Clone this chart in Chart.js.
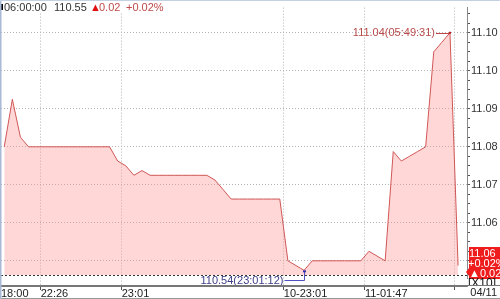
<!DOCTYPE html>
<html>
<head>
<meta charset="utf-8">
<script src="https://cdn.jsdelivr.net/npm/chart.js@4/dist/chart.umd.min.js"></script>
<style>
  html, body { margin: 0; padding: 0; background: #fff; }
  #wrap { width: 500px; height: 299px; }
</style>
</head>
<body>
<div id="wrap"><canvas id="chart" width="500" height="299"></canvas></div>
<script>
// price per time slot (axis shows values x10)
const prices = [
  110.80, 110.90, 110.82,
  110.80, 110.80, 110.80, 110.80, 110.80, 110.80, 110.80, 110.80, 110.80, 110.80, 110.80,
  110.77, 110.76, 110.74, 110.75,
  110.74, 110.74, 110.74, 110.74, 110.74, 110.74, 110.74, 110.74,
  110.73, 110.71,
  110.69, 110.69, 110.69, 110.69, 110.69, 110.69, 110.69,
  110.56, 110.55, 110.54,
  110.56, 110.56, 110.56, 110.56, 110.56, 110.56, 110.56,
  110.58, 110.57, 110.56,
  110.79, 110.77, 110.78, 110.79, 110.80,
  111.00, 111.02, 111.04, 110.55
];
const prevClose = 110.53;

const yTicks = [110.52, 110.54, 110.56, 110.58, 110.60, 110.62, 110.64, 110.66, 110.68, 110.70,
  110.72, 110.74, 110.76, 110.78, 110.80, 110.82, 110.84, 110.86, 110.88, 110.90,
  110.92, 110.94, 110.96, 110.98, 111.00, 111.02, 111.04, 111.06, 111.08];
const yMajor = [110.56, 110.64, 110.72, 110.80, 110.88, 110.96, 111.04];

const xTickSlots = [-0.4, 4.5, 14.5, 34.5, 44.5, 55.5];
const xTickLabels = ['18:00', '22:26', '23:01', '10-23:01', '11-01:47', '04/11'];

const headerTime = '06:00:00';
const headerPrice = '110.55';
const headerChange = '0.02';
const headerPct = '+0.02%';
const boxLines = ['11.06', '+0.02%', '\u25B20.02'];

const highIndex = 55;
const highLabel = '111.04(05:49:31)';
const lowIndex = 37;
const lowLabel = '110.54(23:01:12)';

const FONT = '"Liberation Sans", Arial, sans-serif';

const isMajor = v => yMajor.some(m => Math.abs(m - v) < 1e-6);

const decor = {
  id: 'decor',
  afterDraw(chart) {
    const ctx = chart.ctx;
    const xs = chart.scales.x, ys = chart.scales.y;
    const area = chart.chartArea;
    ctx.save();

    // previous close line
    const yc = Math.round(ys.getPixelForValue(prevClose)) + 0.5;
    ctx.strokeStyle = '#333';
    ctx.lineWidth = 1;
    ctx.setLineDash([2, 2]);
    ctx.beginPath();
    ctx.moveTo(area.left, yc);
    ctx.lineTo(area.right, yc);
    ctx.stroke();
    ctx.setLineDash([]);

    ctx.font = '11px ' + FONT;
    ctx.textBaseline = 'middle';

    // high marker
    const hx = xs.getPixelForValue(highIndex), hy = ys.getPixelForValue(prices[highIndex]);
    ctx.strokeStyle = '#c04848';
    ctx.beginPath();
    ctx.moveTo(hx - 14, Math.round(hy) + 0.5);
    ctx.lineTo(hx, Math.round(hy) + 0.5);
    ctx.stroke();
    ctx.fillStyle = '#c02020';
    ctx.fillRect(hx - 1, hy - 1, 2, 2);
    ctx.fillStyle = '#b84a4a';
    ctx.textAlign = 'right';
    ctx.fillText(highLabel, hx - 15, hy);

    // low marker
    const lx = Math.round(xs.getPixelForValue(lowIndex)) + 0.5, ly = ys.getPixelForValue(prices[lowIndex]);
    const lby = Math.round(ly) + 10.5;
    ctx.strokeStyle = '#5050c0';
    ctx.beginPath();
    ctx.moveTo(lx, ly + 1);
    ctx.lineTo(lx, lby);
    ctx.lineTo(lx - 20, lby);
    ctx.stroke();
    ctx.fillStyle = '#3030b0';
    ctx.fillRect(lx - 1.5, ly, 3, 2);
    ctx.fillStyle = '#40408c';
    ctx.fillText(lowLabel, lx - 21, lby);

    // header
    ctx.fillStyle = '#fff';
    ctx.fillRect(1, 1, 165, 12);
    ctx.fillStyle = '#000';
    ctx.fillRect(1, 4, 2, 6);
    ctx.textAlign = 'left';
    ctx.fillStyle = '#333';
    ctx.fillText(headerTime, 4, 7.5);
    ctx.fillText(headerPrice, 54, 7.5);
    ctx.fillStyle = '#e01010';
    ctx.fillText('\u25B2', 90, 7.5);
    ctx.fillStyle = '#c04a4a';
    ctx.fillText(headerChange, 99, 7.5);
    ctx.fillText(headerPct, 126, 7.5);

    // current price box
    ctx.fillStyle = '#ee1c1c';
    ctx.beginPath();
    ctx.moveTo(500, 247);
    ctx.lineTo(469, 247);
    ctx.lineTo(469, 268);
    ctx.lineTo(466, 272);
    ctx.lineTo(469, 276);
    ctx.lineTo(469, 280);
    ctx.lineTo(500, 280);
    ctx.closePath();
    ctx.fill();
    ctx.fillStyle = '#fff';
    ctx.font = '11px ' + FONT;
    ctx.fillText(boxLines[0], 469, 254);
    ctx.fillText(boxLines[1], 468, 264);
    ctx.fillText(boxLines[2], 469, 273.5);

    // [X10] unit, clipped by the axis strip
    ctx.save();
    ctx.beginPath();
    ctx.rect(467, 278, 33, 7.5);
    ctx.clip();
    ctx.fillStyle = '#fff';
    ctx.fillRect(467, 279, 33, 7);
    ctx.fillStyle = '#111';
    ctx.font = '12px ' + FONT;
    ctx.fillText('[X10]', 468, 284);
    ctx.restore();

    // frame
    ctx.strokeStyle = '#777';
    ctx.beginPath();
    ctx.moveTo(0, 285.5); ctx.lineTo(500, 285.5);
    ctx.stroke();
    ctx.strokeStyle = '#999';
    ctx.beginPath();
    ctx.moveTo(0, 298.5); ctx.lineTo(500, 298.5);
    ctx.stroke();
    ctx.strokeStyle = '#a9bad6';
    ctx.lineWidth = 1.5;
    ctx.beginPath();
    ctx.moveTo(0.75, 0); ctx.lineTo(0.75, 299);
    ctx.stroke();
    ctx.lineWidth = 1;
    ctx.strokeStyle = '#c4d0e4';
    ctx.beginPath();
    ctx.moveTo(0, 0.5); ctx.lineTo(500, 0.5);
    ctx.stroke();

    // last date label
    ctx.fillStyle = '#222';
    ctx.font = '11px ' + FONT;
    ctx.textAlign = 'right';
    ctx.fillText(xTickLabels[xTickLabels.length - 1], 497, 293);

    ctx.restore();
  }
};

new Chart(document.getElementById('chart'), {
  type: 'line',
  data: {
    datasets: [{
      data: prices.map((p, i) => ({ x: i, y: p })),
      borderColor: '#d05656',
      borderWidth: 1,
      backgroundColor: 'rgba(255, 150, 150, 0.38)',
      fill: { value: prevClose },
      pointRadius: 0,
      tension: 0
    }]
  },
  options: {
    responsive: false,
    animation: false,
    devicePixelRatio: 1,
    layout: { padding: { left: 1, top: 0, right: 0, bottom: 0 } },
    plugins: {
      legend: { display: false },
      tooltip: { enabled: false }
    },
    scales: {
      x: {
        type: 'linear',
        min: -0.4,
        max: 57.1,
        afterFit: s => { s.height = 13; },
        afterBuildTicks: s => { s.ticks = xTickSlots.map(v => ({ value: v })); },
        grid: {
          color: c => c.index === 0 ? 'transparent' : '#b4b4b4',
          tickColor: c => c.index === 0 ? 'transparent' : '#555',
          tickLength: 4,
          tickBorderDash: []
        },
        border: { color: '#777', dash: [1, 2] },
        ticks: {
          autoSkip: false,
          maxRotation: 0,
          align: 'start',
          padding: -3,
          color: '#222',
          font: { family: FONT, size: 11 },
          callback: (v, i) => i === xTickLabels.length - 1 ? '' : xTickLabels[i]
        }
      },
      y: {
        position: 'right',
        min: 110.507,
        max: 111.093,
        afterFit: s => { s.width = 33; },
        afterBuildTicks: s => { s.ticks = yTicks.map(v => ({ value: v })); },
        grid: {
          color: c => c.tick && isMajor(c.tick.value) ? '#b4b4b4' : 'transparent',
          tickColor: '#555',
          tickLength: 3,
          tickBorderDash: []
        },
        border: { color: '#888', dash: [1, 2] },
        ticks: {
          autoSkip: false,
          padding: 1,
          color: '#333',
          font: { family: FONT, size: 11 },
          callback: v => isMajor(v) ? (v / 10).toFixed(2) : ''
        }
      }
    }
  },
  plugins: [decor]
});
</script>
</body>
</html>
